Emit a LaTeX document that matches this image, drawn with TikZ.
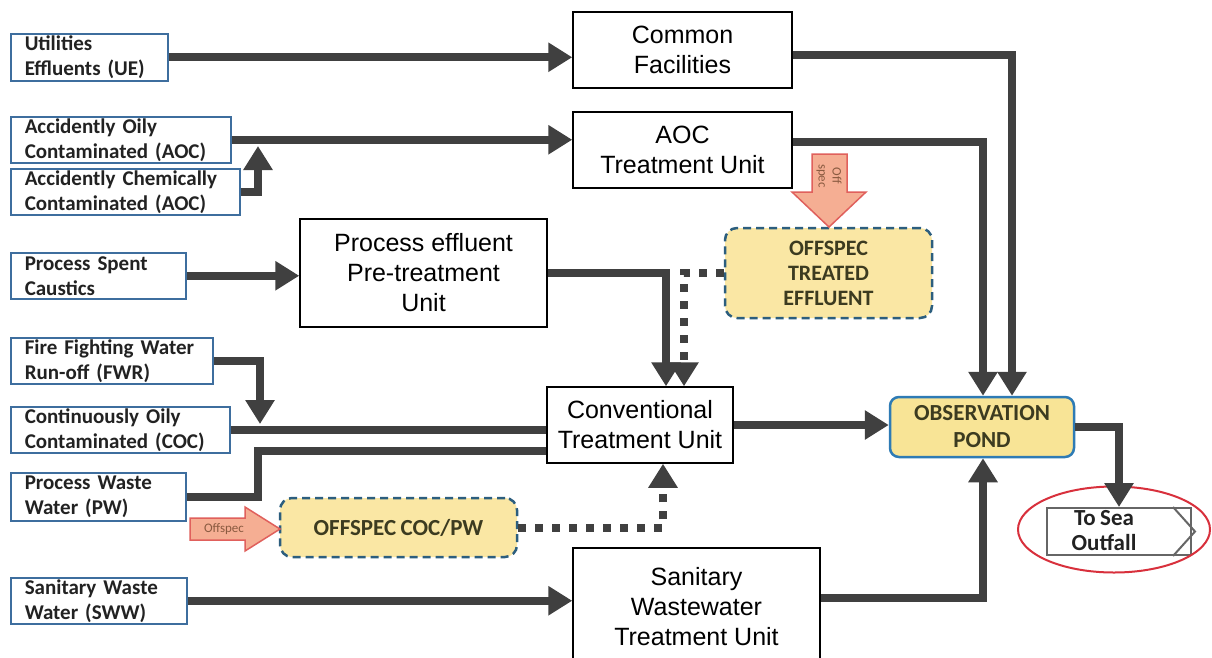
\documentclass[tikz,border=0pt]{standalone}
\usepackage{fontspec}
\setmainfont{Liberation Sans}
\newfontfamily\carl{Carlito}[WordSpace=0.85]
\usetikzlibrary{arrows.meta,calc,shapes.geometric}
\definecolor{srcblue}{HTML}{3E6E9E}
\definecolor{flowgray}{HTML}{404040}
\definecolor{pondfill}{HTML}{F8E496}
\definecolor{offfill}{HTML}{FAE7A4}
\definecolor{pondblue}{HTML}{2E7BB5}
\definecolor{dashblue}{HTML}{2C5E7E}
\definecolor{arrfill}{HTML}{F5AE93}
\definecolor{arrline}{HTML}{E0605C}
\definecolor{redring}{HTML}{D8303C}
\definecolor{olivetxt}{HTML}{3C3B20}
\definecolor{txtdark}{HTML}{222222}
\definecolor{arrtxt}{HTML}{8A5A40}
\begin{document}
\begin{tikzpicture}[x=1pt,y=-1pt,
  src/.style={draw=srcblue, line width=1.5pt, fill=white, inner xsep=14pt, inner ysep=0pt,
    align=left, anchor=north west, text=txtdark,
    font=\carl\bfseries\fontsize{21}{25}\selectfont},
  unit/.style={draw=black, line width=1.5pt, fill=white, align=center, inner sep=0pt,
    font=\fontsize{25}{30}\selectfont},
  pondbox/.style={draw=pondblue, line width=2.5pt, fill=pondfill, rounded corners=9pt,
    align=center, inner sep=0pt, text=olivetxt, font=\carl\bfseries\fontsize{23}{27}\selectfont},
  offbox/.style={draw=dashblue, line width=2.5pt, dash pattern=on 8pt off 5pt, fill=offfill,
    rounded corners=12pt, align=center, inner sep=0pt, text=olivetxt,
    font=\carl\bfseries\fontsize{22}{25}\selectfont},
  seabox/.style={draw=flowgray!80, line width=2pt, fill=white, inner sep=0pt},
  seatext/.style={align=center, inner sep=0pt, text=txtdark, font=\carl\bfseries\fontsize{23}{25}\selectfont},
  flow/.style={draw=flowgray, line width=8pt, -{Triangle[length=24pt,width=28pt]}},
  pipe/.style={draw=flowgray, line width=8pt},
  dotflow/.style={draw=flowgray, line width=8pt, dash pattern=on 8pt off 9pt, -{Triangle[length=24pt,width=28pt]}},
  blockarr/.style={draw=arrline, line width=1.5pt, fill=arrfill, line join=miter},
  arrlabel/.style={text=arrtxt, inner sep=0pt, align=center, font=\carl\fontsize{13}{14}\selectfont}
]
\useasboundingbox (0,0) rectangle (1212,657);
\clip (0,0) rectangle (1212,657);
\fill[white] (0,0) rectangle (1212,657);

% source boxes
\node[src, text width=129pt, minimum height=47pt] (ue) at (10,33) {Utilities\\Effluents (UE)};
\node[src, text width=192pt, minimum height=46pt] (aoc1) at (10,116) {Accidently Oily\\Contaminated (AOC)};
\node[src, text width=201pt, minimum height=46pt] (aoc2) at (10,168) {Accidently Chemically\\Contaminated (AOC)};
\node[src, text width=147pt, minimum height=46pt] (psc) at (10,252) {Process Spent\\Caustics};
\node[src, text width=174pt, minimum height=46pt] (fwr) at (10,337) {Fire Fighting Water\\Run-off (FWR)};
\node[src, text width=191pt, minimum height=46pt] (coc) at (10,406) {Continuously Oily\\Contaminated (COC)};
\node[src, text width=147pt, minimum height=48pt] (pw) at (10,472) {Process Waste\\Water (PW)};
\node[src, text width=148pt, minimum height=46pt] (sww) at (10,577) {Sanitary Waste\\Water (SWW)};

% treatment units
\node[unit, minimum width=219pt, minimum height=76pt] (common) at (682.5,50) {Common\\Facilities};
\node[unit, minimum width=219pt, minimum height=76pt] (aoct) at (682.5,150) {AOC\\Treatment Unit};
\node[unit, minimum width=247pt, minimum height=108pt] (proc) at (423.5,273) {Process effluent\\Pre-treatment\\Unit};
\node[unit, minimum width=186pt, minimum height=76pt] (conv) at (640,425) {Conventional\\Treatment Unit};
\node[unit, minimum width=247pt, minimum height=118pt] (san) at (696.5,607) {Sanitary\\Wastewater\\Treatment Unit};

% yellow boxes
\node[pondbox, minimum width=184pt, minimum height=60pt] (pond) at (982,427) {OBSERVATION\\POND};
\node[offbox, minimum width=207pt, minimum height=90pt] (offt) at (828.5,273) {OFFSPEC\\TREATED\\EFFLUENT};
\node[offbox, minimum width=237pt, minimum height=59pt, font=\carl\bfseries\fontsize{23}{27}\selectfont] (offc) at (398.5,527.5) {OFFSPEC COC/PW};

% sea outfall
\node[seabox, minimum width=144pt, minimum height=47pt] (sea) at (1119,531.5) {};
\draw[draw=flowgray!80, line width=2pt] ([xshift=-19pt]sea.north east) -- ([xshift=3pt]sea.east) -- ([xshift=-19pt]sea.south east);
\node[seatext] (seatxt) at (1104,531) {To Sea\\Outfall};
\node[draw=redring, line width=2pt, ellipse, minimum width=192pt, minimum height=86pt] (ring) at (1114,529.5) {};

% junction coordinates
\coordinate (j1) at (258,146);
\coordinate (j2) at (260,424);
\coordinate (j3) at (258,451);

% flows
\draw[flow] (ue.east) -- (ue.east -| common.west);
\draw[flow] (aoc1.east) -- (aoc1.east -| aoct.west);
\draw[flow] (aoc2.east) -| (j1);
\draw[flow] (psc.east) -- (psc.east -| proc.west);
\draw[flow] (fwr.east) -| (j2);
\draw[pipe] (coc.east) -- (coc.east -| conv.west);
\draw[pipe] (pw.east) -| (j3) -- (j3 -| conv.west);
\draw[flow] (proc.east) -| ([xshift=26pt]conv.north);
\draw[dotflow] (offt.west) -| ([xshift=44pt]conv.north);
\draw[dotflow] (offc.east) -| ([xshift=23pt]conv.south);
\draw[flow] (conv.east) -- (conv.east -| pond.west);
\draw[flow] ([yshift=-5pt]common.east) -| ([xshift=30pt]pond.north);
\draw[flow] ([yshift=8pt]aoct.east) -| ([xshift=1pt]pond.north);
\draw[flow] (sww.east) -- (sww.east -| san.west);
\draw[flow] ([yshift=9pt]san.east) -| ([xshift=1pt]pond.south);
\draw[flow] (pond.east) -| (sea.north);

% offspec block arrows
\draw[blockarr] (190,518) -- (245,518) -- (245,507) -- (280,529) -- (245,551) -- (245,540) -- (190,540) -- cycle;
\node[arrlabel] (offlbl) at (224,529) {Offspec};
\draw[blockarr] (812,154) -- (847,154) -- (847,192) -- (866,192) -- (829,227) -- (792,192) -- (812,192) -- cycle;
\node[arrlabel, rotate=-90] (offlbl2) at (829,176) {Off\\spec};
\end{tikzpicture}
\end{document}
